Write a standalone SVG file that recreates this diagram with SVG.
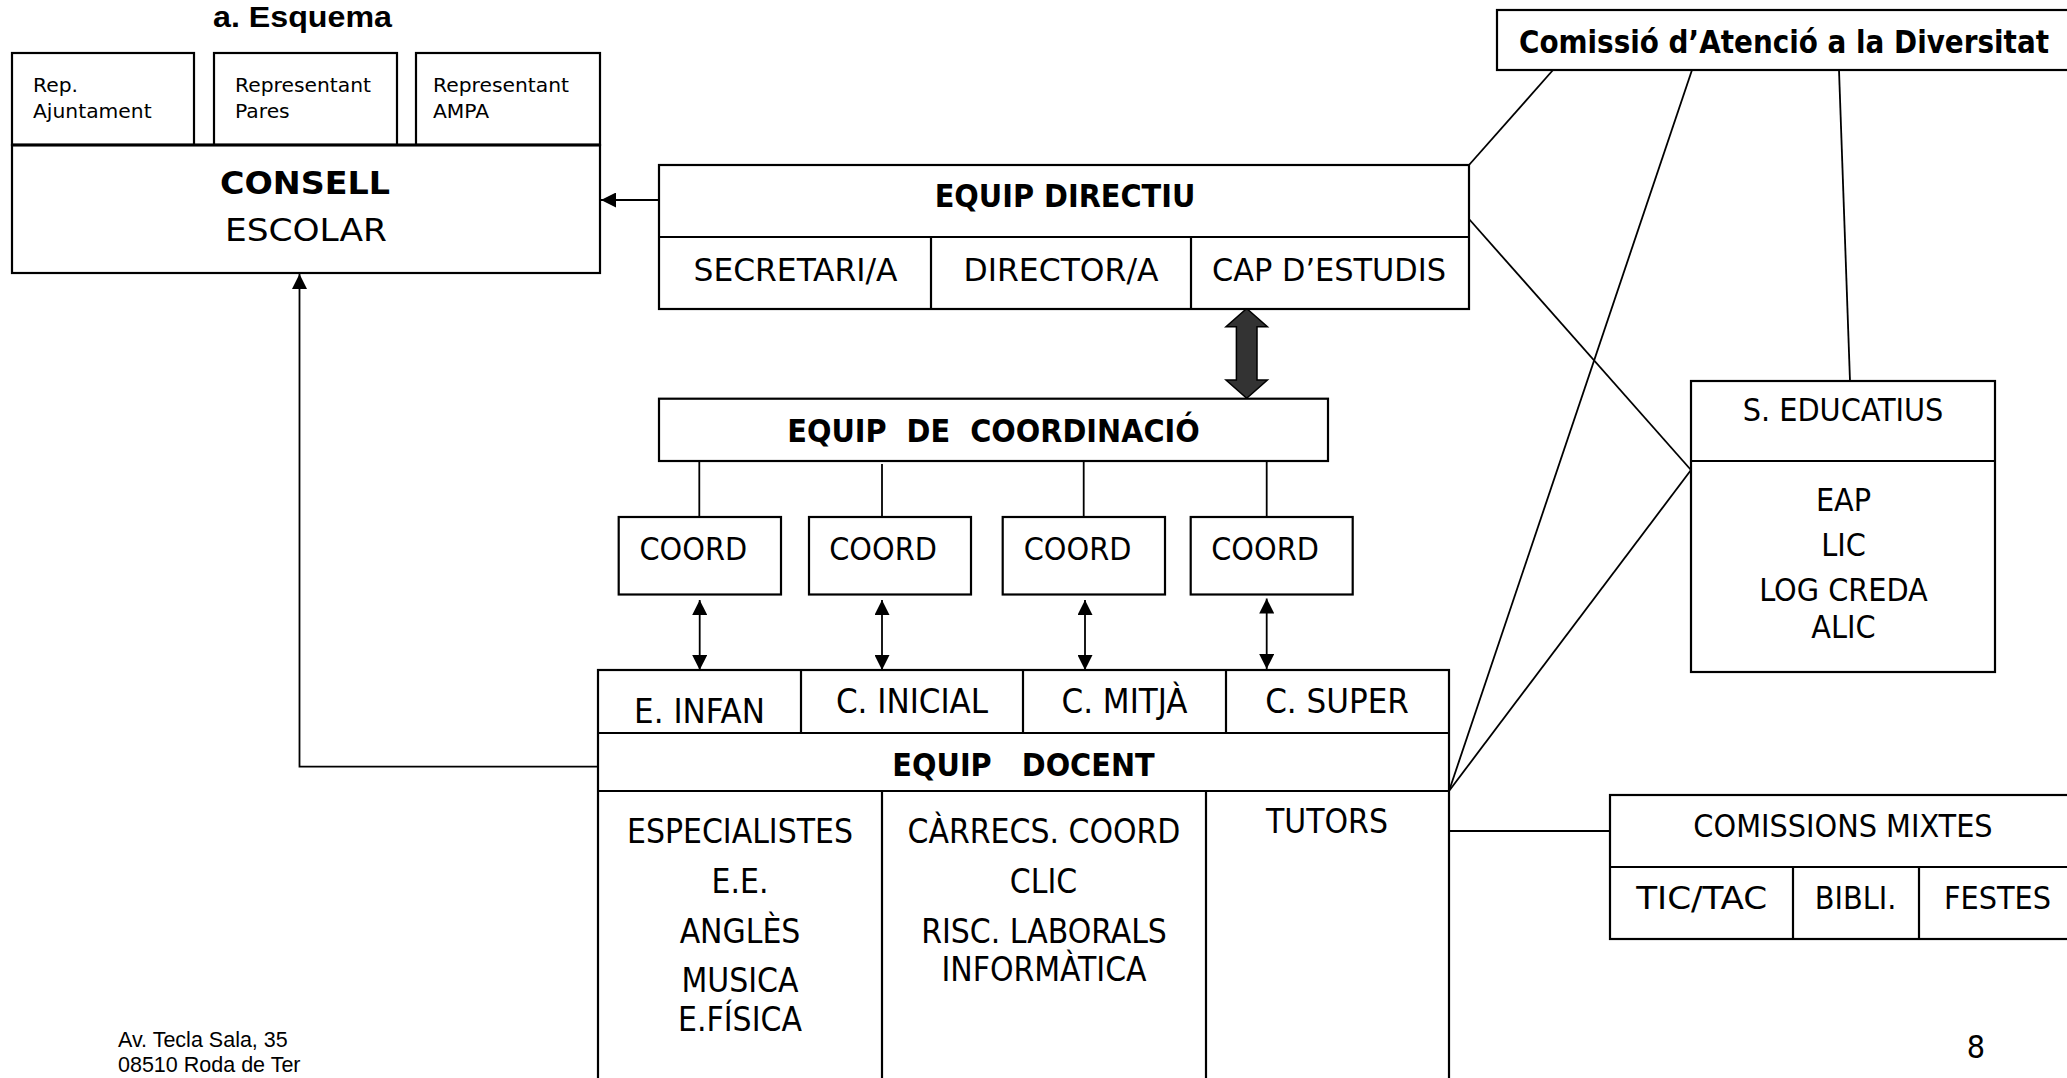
<svg xmlns="http://www.w3.org/2000/svg" width="2067" height="1078" viewBox="0 0 2067 1078">
<defs>
<style>
.box{fill:#fff;stroke:#000;stroke-width:2.2}
.ln{fill:none;stroke:#000;stroke-width:2.2}
.cn{fill:none;stroke:#000;stroke-width:1.8}
.t{font-family:"DejaVu Sans Condensed","DejaVu Sans",sans-serif;font-stretch:condensed;font-size:32px;fill:#000;text-anchor:middle}
.h{font-size:34.5px}
.l{font-size:33.3px}
.b{font-weight:bold}
.s{font-family:"DejaVu Sans",sans-serif;font-size:20.3px;fill:#000}
.a{font-family:"Liberation Sans",Arial,sans-serif;fill:#000}
</style>
<marker id="ah" viewBox="0 0 15 15" refX="15" refY="7.5" markerWidth="15" markerHeight="15" markerUnits="userSpaceOnUse" orient="auto-start-reverse"><path d="M0,0L15,7.5L0,15z" fill="#000"/></marker>
</defs>
<rect width="2067" height="1078" fill="#fff"/>

<text class="a" x="213" y="27" font-size="30" font-weight="bold" textLength="179" lengthAdjust="spacingAndGlyphs">a. Esquema</text>

<g id="connectors">
  <line class="cn" x1="659" y1="200" x2="601" y2="200" marker-end="url(#ah)"/>
  <polyline class="cn" points="598,766.7 299.5,766.7 299.5,274" marker-end="url(#ah)"/>
  <line class="cn" x1="699.3" y1="461" x2="699.3" y2="533"/>
  <line class="cn" x1="882" y1="464" x2="882" y2="517"/>
  <line class="cn" x1="1083.7" y1="461" x2="1083.7" y2="517"/>
  <line class="cn" x1="1266.7" y1="461" x2="1266.7" y2="517"/>
  <line class="cn" x1="699.7" y1="600" x2="699.7" y2="670" marker-start="url(#ah)" marker-end="url(#ah)"/>
  <line class="cn" x1="882" y1="600" x2="882" y2="670" marker-start="url(#ah)" marker-end="url(#ah)"/>
  <line class="cn" x1="1085" y1="600" x2="1085" y2="670" marker-start="url(#ah)" marker-end="url(#ah)"/>
  <line class="cn" x1="1266.7" y1="598.5" x2="1266.7" y2="669" marker-start="url(#ah)" marker-end="url(#ah)"/>
  <path d="M1246.7,308.5 L1267.4,326.7 L1257,326.7 L1257,380 L1267.4,380 L1246.7,398.3 L1226,380 L1236.4,380 L1236.4,326.7 L1226,326.7 Z" fill="#333" stroke="#000" stroke-width="1.5"/>
  <line class="cn" x1="1553" y1="70" x2="1469" y2="165"/>
  <line class="cn" x1="1692" y1="70" x2="1449" y2="791"/>
  <line class="cn" x1="1839" y1="70" x2="1850" y2="381"/>
  <line class="cn" x1="1469" y1="219" x2="1691" y2="470"/>
  <line class="cn" x1="1691" y1="470" x2="1449" y2="791"/>
  <line class="cn" x1="1449" y1="831" x2="1610" y2="831"/>
</g>

<g id="consell-escolar">
  <rect class="box" x="12" y="53" width="182" height="92"/>
  <rect class="box" x="214" y="53" width="183" height="92"/>
  <rect class="box" x="416" y="53" width="184" height="92"/>
  <rect class="box" x="12" y="145" width="588" height="128"/>
  <line x1="12" y1="145" x2="600" y2="145" stroke="#000" stroke-width="3.2"/>
  <text class="s" x="33" y="91.5">Rep.</text>
  <text class="s" x="33" y="118.3">Ajuntament</text>
  <text class="s" x="235" y="91.5">Representant</text>
  <text class="s" x="235" y="118.3">Pares</text>
  <text class="s" x="433" y="91.5">Representant</text>
  <text class="s" x="433" y="118.3">AMPA</text>
  <text class="t b" x="305" y="194" font-size="40" textLength="170" lengthAdjust="spacingAndGlyphs">CONSELL</text>
  <text class="t" x="306" y="241" font-size="40" textLength="162" lengthAdjust="spacingAndGlyphs">ESCOLAR</text>
</g>

<g id="comissio-diversitat">
  <rect class="box" x="1497" y="10" width="580" height="60"/>
  <text class="t b" x="1784" y="52.5" font-size="31.3" textLength="530" lengthAdjust="spacingAndGlyphs">Comissió d’Atenció a la Diversitat</text>
</g>

<g id="equip-directiu">
  <rect class="box" x="659" y="165" width="810" height="144"/>
  <line class="ln" x1="659" y1="237" x2="1469" y2="237"/>
  <line class="ln" x1="931" y1="237" x2="931" y2="309"/>
  <line class="ln" x1="1191" y1="237" x2="1191" y2="309"/>
  <text class="t b" x="1065" y="207.3" font-size="34">EQUIP DIRECTIU</text>
  <text class="t" x="795.5" y="281" font-size="34" textLength="204" lengthAdjust="spacingAndGlyphs">SECRETARI/A</text>
  <text class="t" x="1061" y="281" font-size="34" textLength="195" lengthAdjust="spacingAndGlyphs">DIRECTOR/A</text>
  <text class="t" x="1329" y="281" font-size="34" textLength="234" lengthAdjust="spacingAndGlyphs">CAP D’ESTUDIS</text>
</g>

<g id="equip-coordinacio">
  <rect class="box" x="659" y="398.7" width="669" height="62.3"/>
  <text class="t b" x="993.5" y="441.7" font-size="34" xml:space="preserve">EQUIP  DE  COORDINACIÓ</text>
</g>

<g id="coord-1">
  <rect class="box" x="618.7" y="517" width="162.3" height="77.5"/>
  <text class="t" x="693.3" y="560">COORD</text>
</g>
<g id="coord-2">
  <rect class="box" x="809" y="517" width="162" height="77.5"/>
  <text class="t" x="883" y="560">COORD</text>
</g>
<g id="coord-3">
  <rect class="box" x="1002.7" y="517" width="162.3" height="77.5"/>
  <text class="t" x="1077.5" y="560">COORD</text>
</g>
<g id="coord-4">
  <rect class="box" x="1190.7" y="517" width="162" height="77.5"/>
  <text class="t" x="1265" y="559.5">COORD</text>
</g>

<g id="equip-docent">
  <rect class="box" x="598" y="670" width="851" height="430"/>
  <line class="ln" x1="598" y1="733" x2="1449" y2="733"/>
  <line class="ln" x1="598" y1="791" x2="1449" y2="791"/>
  <line class="ln" x1="801" y1="670" x2="801" y2="733"/>
  <line class="ln" x1="1023" y1="670" x2="1023" y2="733"/>
  <line class="ln" x1="1226" y1="670" x2="1226" y2="733"/>
  <line class="ln" x1="882" y1="791" x2="882" y2="1090"/>
  <line class="ln" x1="1206" y1="791" x2="1206" y2="1090"/>
  <text class="t h" x="699.5" y="722.7">E. INFAN</text>
  <text class="t h" x="912" y="712.7">C. INICIAL</text>
  <text class="t h" x="1124.5" y="712.7">C. MITJÀ</text>
  <text class="t h" x="1337" y="712.7">C. SUPER</text>
  <text class="t b" x="1023.5" y="776" xml:space="preserve">EQUIP   DOCENT</text>
  <text class="t l" x="740" y="843">ESPECIALISTES</text>
  <text class="t l" x="740" y="893.3">E.E.</text>
  <text class="t l" x="740" y="942.7">ANGLÈS</text>
  <text class="t l" x="740" y="991.7">MUSICA</text>
  <text class="t l" x="740" y="1030.7">E.FÍSICA</text>
  <text class="t l" x="1044" y="843">CÀRRECS. COORD</text>
  <text class="t l" x="1043.5" y="893.3">CLIC</text>
  <text class="t l" x="1044" y="942.7">RISC. LABORALS</text>
  <text class="t l" x="1044" y="980.7">INFORMÀTICA</text>
  <text class="t l" x="1327" y="833.3">TUTORS</text>
</g>

<g id="serveis-educatius">
  <rect class="box" x="1691" y="381" width="304" height="291"/>
  <line class="ln" x1="1691" y1="461" x2="1995" y2="461"/>
  <text class="t" x="1843" y="421">S. EDUCATIUS</text>
  <text class="t" x="1843.5" y="511">EAP</text>
  <text class="t" x="1843.5" y="555.7">LIC</text>
  <text class="t" x="1843.5" y="600.7">LOG CREDA</text>
  <text class="t" x="1843.5" y="638.3">ALIC</text>
</g>

<g id="comissions-mixtes">
  <rect class="box" x="1610" y="795" width="465" height="144"/>
  <line class="ln" x1="1610" y1="867" x2="2075" y2="867"/>
  <line class="ln" x1="1793" y1="867" x2="1793" y2="939"/>
  <line class="ln" x1="1919" y1="867" x2="1919" y2="939"/>
  <text class="t" x="1843" y="836.7" font-size="33.3">COMISSIONS MIXTES</text>
  <text class="t" x="1701.7" y="909.3" textLength="131" lengthAdjust="spacingAndGlyphs">TIC/TAC</text>
  <text class="t" x="1855.5" y="909.3">BIBLI.</text>
  <text class="t" x="1997.5" y="909.3">FESTES</text>
</g>

<g id="footer">
  <text class="a" x="118" y="1046.7" font-size="21.5">Av. Tecla Sala, 35</text>
  <text class="a" x="118" y="1071.7" font-size="21.5">08510 Roda de Ter</text>
  <text class="t" x="1976" y="1058.3" font-size="28">8</text>
</g>
</svg>
